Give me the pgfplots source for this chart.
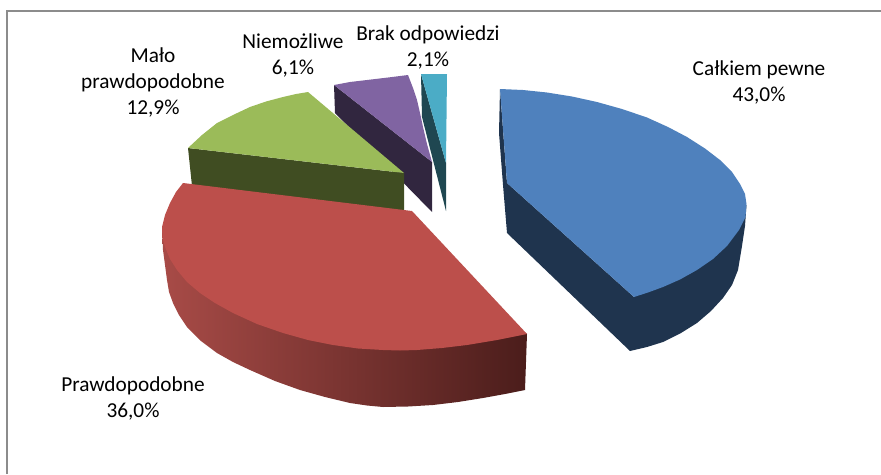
\documentclass[border=0pt]{standalone}
\usepackage{pgfplots}
\pgfplotsset{compat=1.18}
\usepackage{fontspec}
\setmainfont{Carlito}
\definecolor{bluetop}{HTML}{4F81BD}
\definecolor{blueside}{HTML}{1F344E}
\definecolor{redtop}{HTML}{BC4F4B}
\definecolor{redL}{HTML}{A84B47}
\definecolor{redR}{HTML}{4B1D1B}
\definecolor{greentop}{HTML}{9BBB59}
\definecolor{greenside}{HTML}{404D22}
\definecolor{purpletop}{HTML}{8064A2}
\definecolor{purpleside}{HTML}{31263F}
\definecolor{tealtop}{HTML}{4BACC6}
\definecolor{tealside}{HTML}{1F4751}
\definecolor{frame}{HTML}{8C8C8C}
\tikzset{lbl/.style={font=\fontsize{21.3}{26}\selectfont, align=center, text=black, inner sep=0pt}}
\begin{document}
\begin{tikzpicture}
\begin{axis}[
  x=1pt, y=-1pt,
  xmin=0, xmax=881, ymin=0, ymax=474,
  hide axis, scale only axis,
  clip=true,
]
% page extent
\addplot[draw=none] coordinates {(0,0)(881,474)};
% frame
\addplot[frame, line width=2pt] coordinates {(7,474)(7,11)(881,11)};
% blue
\addplot[draw=none, fill=blueside] coordinates {(500,89)(499,133)(503,185)(507,233)(630,351)(647,347)(663,342)(681,333)(697,323)(711,311)(723,298)(732,285)(738,270)(742,246)(745,226)(746.5,205)(634,297)(507,183)};
\addplot[draw=none, fill=bluetop] coordinates {(500,89)(523,90)(547,92.5)(572,96.5)(597,102)(622,109)(647,117.5)(668,127)(687,137)(705,148.5)(720,160)(732,172)(740,184)(745,194)(746.5,204)(745.5,217)(739,230)(727,246)(713,259)(697,270)(680,279.5)(663,287)(648,292.5)(634,297)(507,183)};
% teal
\addplot[draw=none, fill=tealside] coordinates {(421,74)(422,117)(446,211)(446,163)};
\addplot[draw=none, fill=tealtop] coordinates {(421,74)(447,74)(446,163)};
% purple
\addplot[draw=none, fill=purpleside] coordinates {(334,85)(335,113)(432,212)(432,162)};
\addplot[draw=none, fill=purpletop] coordinates {(334,85)(350,82)(367,80)(388,77.5)(408,75)(413,88)(417,100)(420,113)(423,127)(427,144)(432,162)};
% green
\addplot[draw=none, fill=greenside] coordinates {(188,148)(192,186)(404,212)(404,173)};
\addplot[draw=none, fill=greentop] coordinates {(188,148)(202,135)(217,123)(233,115)(250,107)(266,101.5)(283,97)(296,94)(308,92)(404,173)};
% red
\addplot[draw=none, left color=redL, right color=redR] coordinates {(162,227)(163,250)(165,265)(167,280)(169,292)(173,303)(179,315)(187,327)(201,341)(217,353)(233,362)(250,370)(275,381)(300,390)(325,397)(350,403)(367,405.5)(383,407)(408,406.5)(433,405)(458,402)(483,398)(505,394)(525,390)(527,334)(412,250)};
\addplot[draw=none, fill=redtop] coordinates {(183,183)(176,192)(170,203)(165,215)(162,227)(162.5,238)(165,247)(170,259)(177,270)(187,282)(200,293)(215,303)(233,313)(257,324)(283,333)(308,340)(333,345)(358,348.5)(383,350)(400,350.5)(417,350)(442,348)(467,345)(497,340)(527,334)(412,211)};
% labels
\node[lbl] at (axis cs:759,82) {Całkiem pewne\\43,0\%};
\node[lbl] at (axis cs:428,47) {Brak odpowiedzi\\2,1\%};
\node[lbl] at (axis cs:293,55) {Niemożliwe\\6,1\%};
\node[lbl] at (axis cs:153,82) {Mało\\prawdopodobne\\12,9\%};
\node[lbl] at (axis cs:133,398) {Prawdopodobne\\36,0\%};
\end{axis}
\end{tikzpicture}
\end{document}
